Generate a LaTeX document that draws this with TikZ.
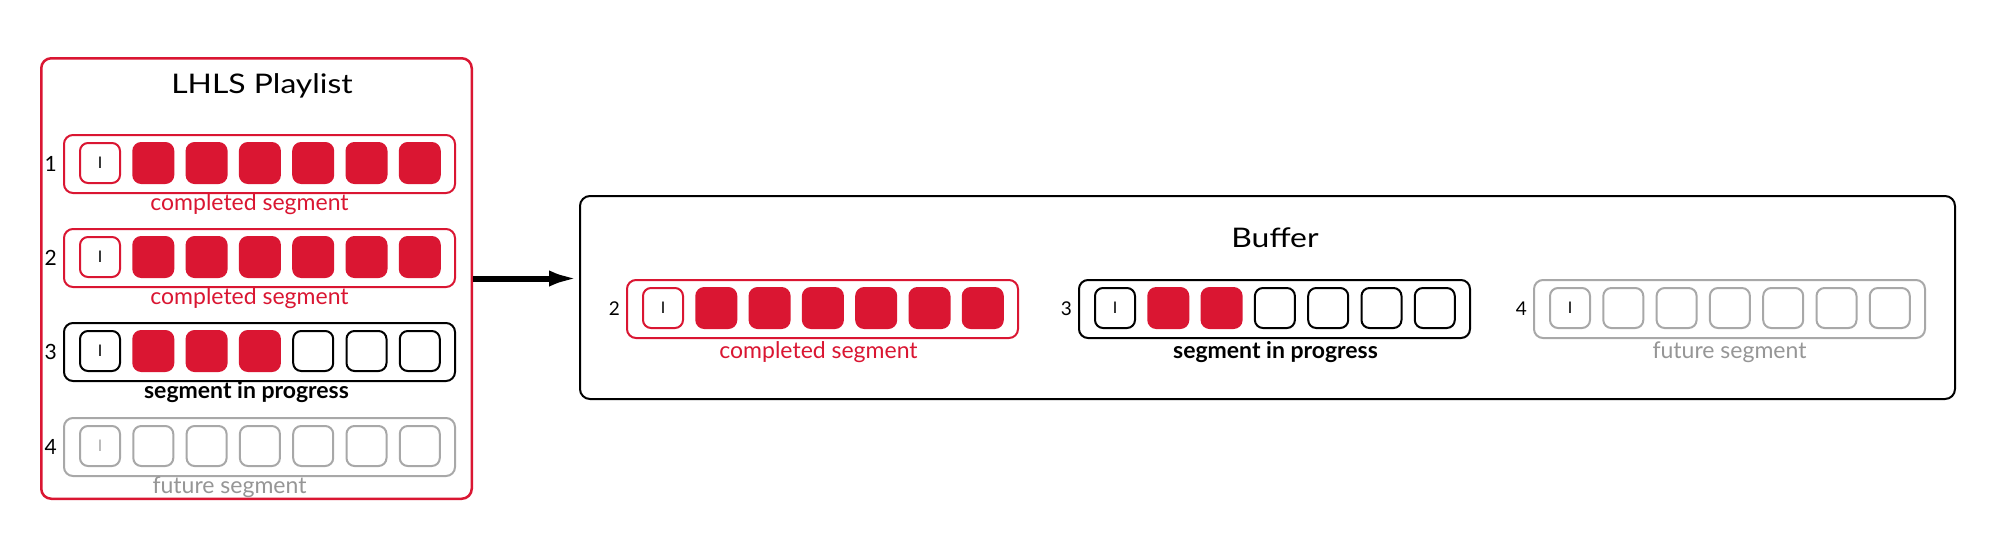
\documentclass[tikz,border=0pt]{standalone}
\usepackage{fontspec}
\setmainfont{Lato}
\newfontfamily\titlefont[FakeStretch=1.18]{Lato}
\usetikzlibrary{arrows.meta}
\definecolor{segred}{RGB}{218,22,50}
\definecolor{seggray}{RGB}{168,168,168}
\definecolor{segtext}{RGB}{150,150,150}
\tikzset{
  cellbase/.style={draw, rounded corners=8pt, minimum width=40pt, minimum height=40pt,
    line width=2pt, inner sep=0pt, font=\fontsize{16}{16}\selectfont},
  fullcell/.style={cellbase, draw=segred, fill=segred},
  redI/.style={cellbase, draw=segred},
  blackI/.style={cellbase, draw=black},
  grayI/.style={cellbase, draw=seggray, text=seggray},
  grayblackI/.style={cellbase, draw=seggray, text=black},
  emptyblack/.style={cellbase, draw=black},
  emptygray/.style={cellbase, draw=seggray},
  rowbase/.style={draw, rounded corners=9pt, minimum width=391pt, minimum height=58pt,
    line width=2pt, inner sep=0pt},
  rowred/.style={rowbase, draw=segred},
  rowblack/.style={rowbase, draw=black},
  rowgray/.style={rowbase, draw=seggray},
  numbig/.style={inner sep=0pt, font=\fontsize{21}{21}\selectfont},
  numsmall/.style={inner sep=0pt, font=\fontsize{19}{19}\selectfont},
  lblbase/.style={inner sep=0pt, font=\fontsize{23}{23}\selectfont},
  lblred/.style={lblbase, text=segred},
  lblblack/.style={lblbase, font=\fontsize{23}{23}\selectfont\bfseries},
  lblgray/.style={lblbase, text=segtext},
  titlestyle/.style={inner sep=0pt, font=\fontsize{27}{27}\selectfont\titlefont},
  outerbox/.style={draw, rounded corners=10pt, inner sep=0pt},
  bigarrow/.style={line width=6pt, -{Latex[length=30pt,width=16pt]}},
}
% #1 name, #2 x, #3 y, #4 row style, #5 number, #6 number style, #7 label style, #8 label text, #9 label shift options
\newcommand{\segrow}[9]{%
  \node[#4] (#1) at (#2+196.5,#3+30) {};
  \node[#6, anchor=east] (#1n) at (#2-6,#3+30) {#5};
  \node[#7, anchor=base, #9] (#1l) at (#2+196.5,#3+76) {#8};
}
% #1 name, #2 x, #3 y, #4 I-cell style, #5 number of filled cells, #6 empty cell style
\newcommand{\segcells}[6]{%
  \node[#4] (#1c0) at (#2+37,#3+29) {I};
  \foreach \i in {1,...,6}{%
    \ifnum\i>#5\relax
      \node[#6] (#1c\i) at (#2+37+\i*53.3,#3+29) {};
    \else
      \node[fullcell] (#1c\i) at (#2+37+\i*53.3,#3+29) {};
    \fi
  }%
}
\begin{document}
\begin{tikzpicture}[x=1pt,y=-1pt]
  \fill[white] (0,0) rectangle (1995,536);
  \useasboundingbox (0,0) rectangle (1995,536);
  % playlist
  \node[outerbox, draw=segred, line width=2.5pt, minimum width=430.5pt, minimum height=440.5pt] (pl) at (256.5,278.5) {};
  \node[titlestyle, anchor=base] (pltitle) at (262,93) {LHLS Playlist};
  \segrow{p1}{63}{134}{rowred}{1}{numbig}{lblred}{completed segment}{xshift=-10pt}
  \segcells{p1}{63}{134}{redI}{6}{emptyblack}
  \segrow{p2}{63}{228}{rowred}{2}{numbig}{lblred}{completed segment}{xshift=-10pt}
  \segcells{p2}{63}{228}{redI}{6}{emptyblack}
  \segrow{p3}{63}{322}{rowblack}{3}{numbig}{lblblack}{segment in progress}{xshift=-13pt}
  \segcells{p3}{63}{322}{blackI}{3}{emptyblack}
  \segrow{p4}{63}{417}{rowgray}{4}{numbig}{lblgray}{future segment}{xshift=-30pt}
  \segcells{p4}{63}{417}{grayI}{0}{emptygray}
  % buffer
  \node[outerbox, draw=black, line width=2pt, minimum width=1375pt, minimum height=203pt] (buf) at (1267.5,297.5) {};
  \node[titlestyle, anchor=base] (buftitle) at (1275,247) {Buffer};
  \segrow{b2}{626}{279}{rowred}{2}{numsmall}{lblred}{completed segment}{xshift=-4pt, yshift=-3pt}
  \segcells{b2}{626}{279}{redI}{6}{emptyblack}
  \segrow{b3}{1078}{279}{rowblack}{3}{numsmall}{lblblack}{segment in progress}{xshift=1pt, yshift=-3pt}
  \segcells{b3}{1078}{279}{blackI}{2}{emptyblack}
  \segrow{b4}{1533}{279}{rowgray}{4}{numsmall}{lblgray}{future segment}{yshift=-3pt}
  \segcells{b4}{1533}{279}{grayblackI}{0}{emptygray}
  % arrow
  \draw[bigarrow] (pl.east) -- (pl.east -| buf.west);
\end{tikzpicture}
\end{document}
